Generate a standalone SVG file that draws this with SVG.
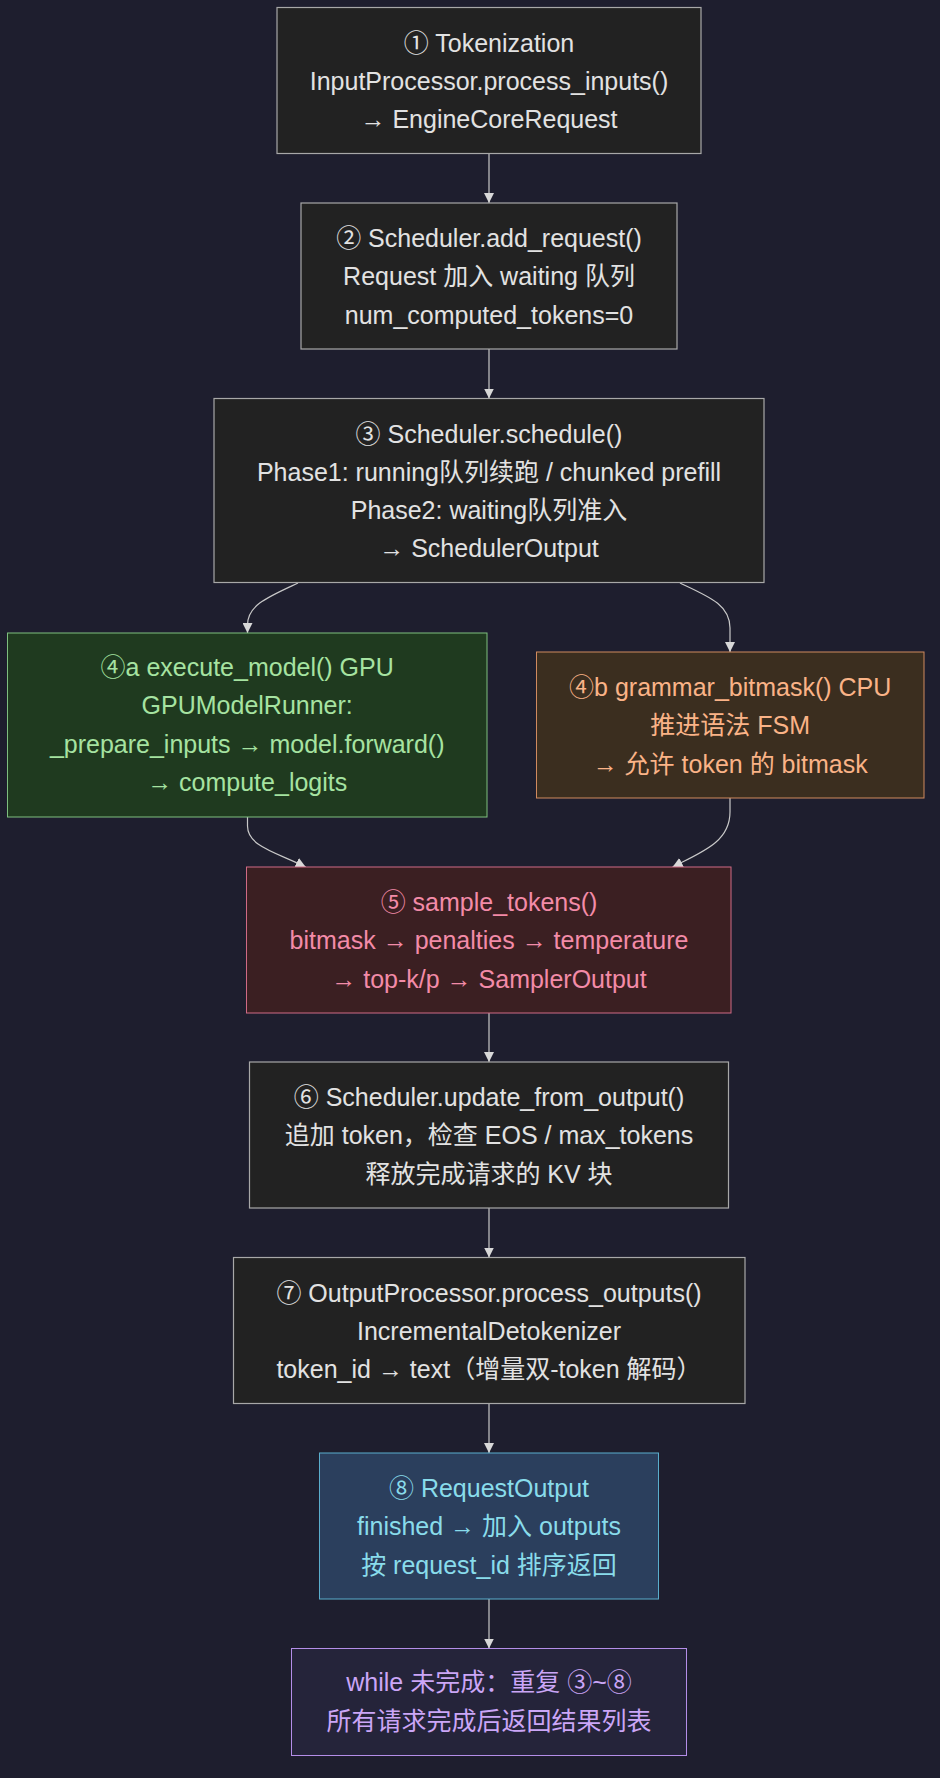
<svg xmlns="http://www.w3.org/2000/svg" width="940" height="1778" viewBox="0 0 940 1778">
<defs>
<marker id="arr" viewBox="0 0 10 10" refX="10" refY="5" markerWidth="10" markerHeight="10" markerUnits="userSpaceOnUse" orient="auto">
<path d="M0,0 L10,5 L0,10 z" fill="#d8d8d8"/>
</marker>
<style>
text{font-family:"Liberation Sans","Noto Sans CJK SC",sans-serif;font-size:25px;text-anchor:middle;fill:#e2e2e2}
.box{fill:#222222;stroke:#a8a8a8;stroke-width:1.2}
.g rect{fill:#1f3a1f;stroke:#7fbf7f}
.g text{fill:#a6e3a1}
.o rect{fill:#3b2e1f;stroke:#d08a5f}
.o text{fill:#fab387}
.r rect{fill:#3b1f22;stroke:#d06a85}
.r text{fill:#f38ba8}
.b rect{fill:#2b3f5d;stroke:#5aaecd}
.b text{fill:#89dceb}
.p rect{fill:#25243a;stroke:#b48ee8}
.p text{fill:#cba6f7}
.edge{fill:none;stroke:#c8c8c8;stroke-width:1.2;marker-end:url(#arr)}
</style>
</defs>
<rect width="940" height="1778" fill="#1e1e2e"/>
<g id="edges">
<path class="edge" d="M489,153.5 L489,203"/>
<path class="edge" d="M489,349 L489,398.5"/>
<path class="edge" d="M298,583 C268,597 247.5,605 247.5,625 L247.5,633"/>
<path class="edge" d="M680,583 C710,597 730,605 730,628 L730,652"/>
<path class="edge" d="M247.5,817 L247.5,826 C247.5,846 275,852 305.7,867"/>
<path class="edge" d="M730,798 L730,812 C730,842 702,852 672.6,867"/>
<path class="edge" d="M489,1013 L489,1062"/>
<path class="edge" d="M489,1208 L489,1257.5"/>
<path class="edge" d="M489,1403.5 L489,1453"/>
<path class="edge" d="M489,1599 L489,1648.5"/>
</g>
<g id="n1">
<rect class="box" x="277" y="7.5" width="424" height="146"/>
<text x="489" y="51.5">① Tokenization</text>
<text x="489" y="89.8">InputProcessor.process_inputs()</text>
<text x="489" y="128">→ EngineCoreRequest</text>
</g>
<g id="n2">
<rect class="box" x="301" y="203" width="376" height="146"/>
<text x="489" y="247">② Scheduler.add_request()</text>
<text x="489" y="285.3">Request 加入 waiting 队列</text>
<text x="489" y="323.5">num_computed_tokens=0</text>
</g>
<g id="n3">
<rect class="box" x="214" y="398.5" width="550" height="184"/>
<text x="489" y="442.5">③ Scheduler.schedule()</text>
<text x="489" y="480.8">Phase1: running队列续跑 / chunked prefill</text>
<text x="489" y="519">Phase2: waiting队列准入</text>
<text x="489" y="557.3">→ SchedulerOutput</text>
</g>
<g id="n4a" class="g">
<rect x="7.5" y="633" width="479.5" height="184"/>
<text x="247.2" y="676">④a execute_model() GPU</text>
<text x="247.2" y="714.3">GPUModelRunner:</text>
<text x="247.2" y="752.5">_prepare_inputs → model.forward()</text>
<text x="247.2" y="790.8">→ compute_logits</text>
</g>
<g id="n4b" class="o">
<rect x="536.5" y="652" width="387.5" height="146"/>
<text x="730.2" y="696">④b grammar_bitmask() CPU</text>
<text x="730.2" y="734.3">推进语法 FSM</text>
<text x="730.2" y="772.5">→ 允许 token 的 bitmask</text>
</g>
<g id="n5" class="r">
<rect x="246.5" y="867" width="484.5" height="146"/>
<text x="489" y="911">⑤ sample_tokens()</text>
<text x="489" y="949.3">bitmask → penalties → temperature</text>
<text x="489" y="987.5">→ top-k/p → SamplerOutput</text>
</g>
<g id="n6">
<rect class="box" x="249.5" y="1062" width="479" height="146"/>
<text x="489" y="1106">⑥ Scheduler.update_from_output()</text>
<text x="489" y="1144.3">追加 token，检查 EOS / max_tokens</text>
<text x="489" y="1182.5">释放完成请求的 KV 块</text>
</g>
<g id="n7">
<rect class="box" x="233.5" y="1257.5" width="511.5" height="146"/>
<text x="489" y="1301.5">⑦ OutputProcessor.process_outputs()</text>
<text x="489" y="1339.8">IncrementalDetokenizer</text>
<text x="489" y="1378">token_id → text（增量双-token 解码）</text>
</g>
<g id="n8" class="b">
<rect x="319.5" y="1453" width="339" height="146"/>
<text x="489" y="1497">⑧ RequestOutput</text>
<text x="489" y="1535.3">finished → 加入 outputs</text>
<text x="489" y="1573.5">按 request_id 排序返回</text>
</g>
<g id="n9" class="p">
<rect x="291.5" y="1648.5" width="395" height="107"/>
<text x="489" y="1691">while 未完成：重复 ③~⑧</text>
<text x="489" y="1729.5">所有请求完成后返回结果列表</text>
</g>
</svg>
